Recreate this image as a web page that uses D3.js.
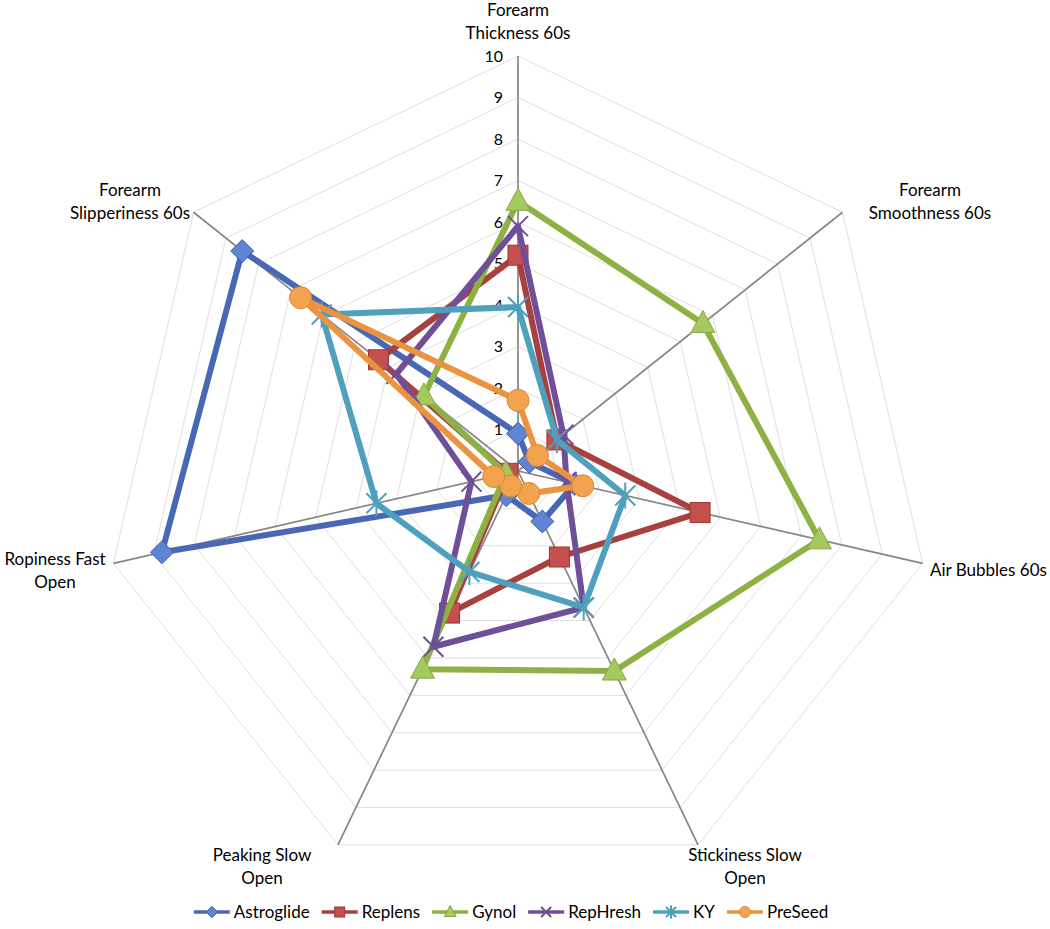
<!DOCTYPE html>
<html>
<head>
<meta charset="utf-8">
<script src="https://cdn.jsdelivr.net/npm/d3@7"></script>
<style>
  html, body { margin: 0; padding: 0; background: #fff; }
  svg text { font-family: Lato, "Open Sans", sans-serif; fill: #000; }
</style>
</head>
<body>
<svg id="chart" width="1050" height="929"></svg>
<script>
// ---------------- data ----------------
const categories = [
  "Forearm\nThickness 60s",
  "Forearm\nSmoothness 60s",
  "Air Bubbles 60s",
  "Stickiness Slow\nOpen",
  "Peaking Slow\nOpen",
  "Ropiness Fast\nOpen",
  "Forearm\nSlipperiness 60s"
];
const seriesNames = ["Astroglide", "Replens", "Gynol", "RepHresh", "KY", "PreSeed"];
const astroglide = [0.9, 0.35, 1.4, 1.35, 0.65, 8.8, 8.5];
const replens    = [5.2, 1.2, 4.5, 2.3, 3.8, 0.25, 4.3];
const gynol      = [6.5, 5.7, 7.45, 5.35, 5.3, 0.3, 2.9];
const rephresh   = [5.9, 1.4, 1.2, 3.65, 4.7, 1.15, 3.75];
const ky         = [3.95, 1.2, 2.65, 3.65, 2.7, 3.5, 6.05];
const preseed    = [1.7, 0.6, 1.6, 0.6, 0.4, 0.6, 6.7];
const tickValues = [0, 1, 2, 3, 4, 5, 6, 7, 8, 9, 10];

const seriesValues = [astroglide, replens, gynol, rephresh, ky, preseed];

// ---------------- styling / layout ----------------
const styles = [
  { line: "#4868B6", fill: "#5F84D2", stroke: "#3D5EA8", marker: "diamond" },
  { line: "#A8403E", fill: "#C4504E", stroke: "#9A3634", marker: "square" },
  { line: "#8DB243", fill: "#A6C95E", stroke: "#86A943", marker: "triangle" },
  { line: "#6F4F98", fill: "#7E5FA8", stroke: "#6F4F98", marker: "x" },
  { line: "#4EA0BC", fill: "#4EA0BC", stroke: "#4EA0BC", marker: "asterisk" },
  { line: "#EA9340", fill: "#F3A24E", stroke: "#DB8633", marker: "circle" }
];

const cx = 518, cy = 471, R = 415;
const svg = d3.select("#chart");
const g = svg.append("g").attr("transform", `translate(${cx},${cy})`);

const r = d3.scaleLinear().domain([0, 10]).range([0, R]);
const angle = d3.scaleLinear().domain([0, categories.length]).range([0, 2 * Math.PI]);

function pt(i, v) {
  const a = angle(i);
  return [Math.sin(a) * r(v), -Math.cos(a) * r(v)];
}

// grid rings
const ringLine = d3.lineRadial().angle((d, i) => angle(i)).radius(d => r(d)).curve(d3.curveLinearClosed);
tickValues.filter(t => t > 0).forEach(t => {
  g.append("path")
    .attr("d", ringLine(categories.map(() => t)))
    .attr("fill", "none")
    .attr("stroke", "#DEDEDE")
    .attr("stroke-width", 1);
});

// spokes
categories.forEach((c, i) => {
  const [x, y] = pt(i, 10);
  g.append("line")
    .attr("x1", 0).attr("y1", 0).attr("x2", x).attr("y2", y)
    .attr("stroke", "#868686").attr("stroke-width", 1.7);
});

// tick labels
g.selectAll("text.tick").data(tickValues).enter().append("text")
  .attr("class", "tick")
  .attr("x", -15)
  .attr("y", d => -r(d))
  .attr("dy", "0.35em")
  .attr("text-anchor", "end")
  .style("font-size", "16px")
  .text(d => d);

// category labels (absolute page positions of label centres)
const labelLayout = [
  { x: 518, y: 10, anchor: "middle" },
  { x: 930, y: 190, anchor: "middle" },
  { x: 930, y: 570, anchor: "start" },
  { x: 745, y: 855, anchor: "middle" },
  { x: 262, y: 855, anchor: "middle" },
  { x: 55, y: 559, anchor: "middle" },
  { x: 130, y: 190, anchor: "middle" }
];
categories.forEach((c, i) => {
  const L = labelLayout[i];
  const t = svg.append("text")
    .attr("x", L.x).attr("y", L.y)
    .attr("text-anchor", L.anchor)
    .style("font-size", "17px");
  c.split("\n").forEach((line, k) => {
    t.append("tspan").attr("x", L.x).attr("dy", k === 0 ? "0.35em" : "23px").text(line);
  });
});

// marker drawing
function drawMarker(sel, type, s, sc) {
  if (type === "diamond") {
    const h = 11.5 * sc;
    sel.append("path").attr("d", `M0,${-h}L${h},0L0,${h}L${-h},0Z`)
      .attr("fill", s.fill).attr("stroke", s.stroke).attr("stroke-width", 1);
  } else if (type === "square") {
    const h = 10 * sc;
    sel.append("rect").attr("x", -h).attr("y", -h).attr("width", 2 * h).attr("height", 2 * h)
      .attr("fill", s.fill).attr("stroke", s.stroke).attr("stroke-width", 1);
  } else if (type === "triangle") {
    const w = 12 * sc;
    sel.append("path").attr("d", `M0,${-13 * sc}L${w},${9 * sc}L${-w},${9 * sc}Z`)
      .attr("fill", s.fill).attr("stroke", s.stroke).attr("stroke-width", 1);
  } else if (type === "circle") {
    sel.append("circle").attr("r", 11 * sc)
      .attr("fill", s.fill).attr("stroke", s.stroke).attr("stroke-width", 1);
  } else if (type === "x") {
    const h = 10 * sc;
    sel.append("path").attr("d", `M${-h},${-h}L${h},${h}M${-h},${h}L${h},${-h}`)
      .attr("stroke", s.stroke).attr("stroke-width", 2).attr("fill", "none");
  } else if (type === "asterisk") {
    const h = 10 * sc;
    sel.append("path").attr("d", `M${-h},${-h}L${h},${h}M${-h},${h}L${h},${-h}M0,${-h * 1.3}L0,${h * 1.3}`)
      .attr("stroke", s.stroke).attr("stroke-width", 2).attr("fill", "none");
  }
}

// series
const seriesLine = d3.lineRadial().angle((d, i) => angle(i)).radius(d => r(d)).curve(d3.curveLinearClosed);
seriesValues.forEach((vals, si) => {
  const s = styles[si];
  const sg = g.append("g");
  sg.append("path")
    .attr("d", seriesLine(vals))
    .attr("fill", "none")
    .attr("stroke", s.line)
    .attr("stroke-width", 6)
    .attr("stroke-linejoin", "round");
  vals.forEach((v, i) => {
    const [x, y] = pt(i, v);
    const m = sg.append("g").attr("transform", `translate(${x},${y})`);
    drawMarker(m, s.marker, s, 1);
  });
});

// legend
const legend = svg.append("g");
let lx = 0;
seriesNames.forEach((name, si) => {
  const s = styles[si];
  const it = legend.append("g").attr("transform", `translate(${lx},0)`);
  it.append("line").attr("x1", 0).attr("x2", 36).attr("y1", 0).attr("y2", 0)
    .attr("stroke", s.line).attr("stroke-width", 3.5);
  const m = it.append("g").attr("transform", "translate(18,0)");
  drawMarker(m, s.marker, s, 0.5);
  const t = it.append("text").attr("x", 40).attr("y", 0).attr("dy", "0.35em")
    .style("font-size", "17px").text(name);
  lx += 40 + t.node().getComputedTextLength() + 12;
});
const legendW = lx - 12;
legend.attr("transform", `translate(${511 - legendW / 2},912)`);
</script>
</body>
</html>
